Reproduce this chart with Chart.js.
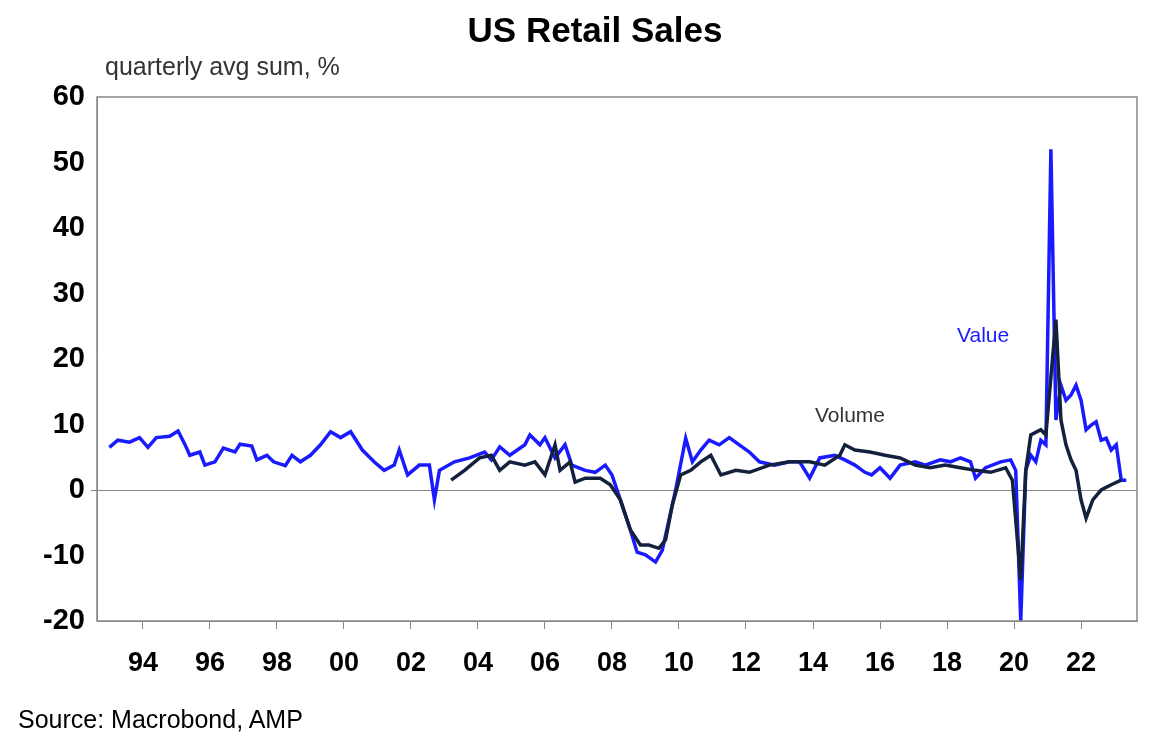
<!DOCTYPE html>
<html><head><meta charset="utf-8">
<script src="https://cdn.jsdelivr.net/npm/chart.js@4"></script>
<style>
body{margin:0;background:#fff;font-family:"Liberation Sans",Arial,sans-serif;}
#wrap{position:relative;width:1169px;height:751px;}
canvas{position:absolute;left:0;top:0;}
.t{position:absolute;white-space:nowrap;}
</style></head><body>
<div id="wrap">
<canvas id="c" width="1169" height="751"></canvas>
<div class="t" style="left:0;width:1190px;text-align:center;top:10px;font-size:35px;font-weight:bold;">US Retail Sales</div>
<div class="t" style="left:105px;top:52px;font-size:25px;color:#333;">quarterly avg sum, %</div>
<div class="t" style="left:957px;top:323px;font-size:21px;color:#1a1aff;">Value</div>
<div class="t" style="left:815px;top:403px;font-size:21px;color:#333;">Volume</div>
<div class="t" style="left:18px;top:705px;font-size:25px;color:#000;">Source: Macrobond, AMP</div>
</div>
<script>
const valueYears=[1993.0,1993.25,1993.6,1993.9,1994.15,1994.4,1994.8,1995.05,1995.25,1995.4,1995.7,1995.85,1996.15,1996.4,1996.75,1996.9,1997.25,1997.4,1997.7,1997.9,1998.25,1998.45,1998.7,1999.0,1999.3,1999.6,1999.9,2000.2,2000.55,2000.9,2001.2,2001.5,2001.65,2001.9,2002.25,2002.55,2002.7,2002.85,2003.3,2003.75,2004.2,2004.4,2004.65,2004.95,2005.4,2005.55,2005.85,2006.0,2006.3,2006.6,2006.8,2007.2,2007.5,2007.8,2008.0,2008.25,2008.55,2008.75,2009.0,2009.3,2009.5,2009.7,2009.9,2010.2,2010.4,2010.65,2010.9,2011.2,2011.5,2011.8,2012.1,2012.4,2012.85,2013.3,2013.6,2013.9,2014.2,2014.65,2014.95,2015.25,2015.55,2015.75,2016.0,2016.3,2016.6,2017.05,2017.35,2017.8,2018.1,2018.4,2018.7,2018.85,2019.15,2019.6,2019.9,2020.05,2020.2,2020.35,2020.5,2020.65,2020.8,2020.95,2021.1,2021.25,2021.4,2021.55,2021.7,2021.85,2022.0,2022.15,2022.3,2022.45,2022.6,2022.75,2022.9,2023.05,2023.2,2023.35];
const valueData=[6.5,7.6,7.3,8,6.5,8,8.2,9,7,5.3,5.8,3.8,4.3,6.4,5.8,7,6.7,4.6,5.3,4.3,3.7,5.3,4.3,5.3,6.9,8.9,8,8.9,6.1,4.3,3,3.8,6.1,2.3,3.8,3.8,-1.5,3,4.3,4.9,5.8,4.6,6.6,5.3,6.9,8.4,6.9,8,4.9,6.9,3.8,3,2.7,3.8,2.3,-1.5,-6.1,-9.5,-9.9,-11,-9.2,-4.6,0,7.9,4.3,6.1,7.6,6.9,8,6.9,5.8,4.3,3.8,4.3,4.3,1.8,4.9,5.3,4.6,3.8,2.7,2.3,3.4,1.8,3.8,4.3,3.8,4.6,4.3,4.9,4.3,1.8,3.4,4.3,4.6,3,-20,3,5.3,4.3,7.6,6.9,52,10.7,16,13.7,14.5,16,13.7,9.2,9.9,10.4,7.6,7.9,6.1,6.9,1.5,1.5];
const volumeYears=[2003.2,2003.6,2004.05,2004.4,2004.65,2004.95,2005.4,2005.7,2006.0,2006.3,2006.45,2006.75,2006.9,2007.2,2007.65,2007.95,2008.25,2008.55,2008.85,2009.1,2009.4,2009.6,2009.8,2010.05,2010.35,2010.65,2010.95,2011.25,2011.7,2012.1,2012.7,2013.3,2013.9,2014.35,2014.8,2014.95,2015.25,2015.7,2016.15,2016.6,2017.05,2017.5,2017.95,2018.4,2018.85,2019.3,2019.75,2019.95,2020.2,2020.35,2020.5,2020.8,2020.95,2021.25,2021.4,2021.55,2021.7,2021.85,2022.0,2022.15,2022.35,2022.6,2022.9,2023.2];
const volumeData=[1.5,3,4.9,5.3,3,4.3,3.8,4.3,2.3,6.9,3,4.3,1.2,1.8,1.8,0.8,-1.5,-6.1,-8.4,-8.4,-8.9,-7.6,-2.3,2.3,3,4.3,5.3,2.3,3,2.7,3.8,4.3,4.3,3.8,5.3,6.9,6.1,5.8,5.3,4.9,3.8,3.4,3.8,3.4,3,2.7,3.4,1.5,-13.7,3,8.4,9.2,8.4,26,10.7,6.9,4.6,3,-1.5,-4.3,-1.5,0,0.8,1.5];
const yTicks=[60,50,40,30,20,10,0,-10,-20];
const xTickYears=[1994,1996,1998,2000,2002,2004,2006,2008,2010,2012,2014,2016,2018,2020,2022];

const pts=(xs,ys)=>xs.map((x,i)=>({x:x,y:ys[i]}));
const boxPlugin={id:'box',afterDraw(ch){const a=ch.chartArea,c=ch.ctx;c.save();c.strokeStyle='#888';c.lineWidth=1.5;c.strokeRect(a.left,a.top,a.right-a.left,a.bottom-a.top);c.restore();}};
new Chart(document.getElementById('c'),{
 type:'line',
 data:{datasets:[
  {data:pts(volumeYears,volumeData),borderColor:'#14213d',borderWidth:3.5,pointRadius:0,tension:0},
  {data:pts(valueYears,valueData),borderColor:'#1a1aff',borderWidth:3.5,pointRadius:0,tension:0}
 ]},
 options:{responsive:false,animation:false,
  layout:{padding:{top:97,right:32,left:0,bottom:0}},
  plugins:{legend:{display:false},tooltip:{enabled:false}},
  scales:{
   x:{type:'linear',min:1992.63,max:2023.67,
    afterBuildTicks(ax){ax.ticks=xTickYears.map(v=>({value:v}));},
    afterFit(ax){ax.height=130;},
    ticks:{autoSkip:false,maxRotation:0,padding:18,color:'#000',font:{family:'Liberation Sans',size:27,weight:'bold'},callback:v=>String(v%100).padStart(2,'0')},
    grid:{display:true,drawOnChartArea:false,tickLength:8,color:'#888'},border:{color:'#888'}},
   y:{min:-20,max:60,
    afterBuildTicks(ax){ax.ticks=yTicks.map(v=>({value:v}));},
    afterFit(ax){ax.width=97;},
    ticks:{padding:6,color:'#000',font:{family:'Liberation Sans',size:29,weight:'bold'}},
    grid:{drawTicks:true,tickLength:6,color:c=>c.tick&&c.tick.value===0?'#888':'rgba(0,0,0,0)',lineWidth:1},border:{color:'#888'}}
  }
 },
 plugins:[boxPlugin]
});
</script>
</body></html>
